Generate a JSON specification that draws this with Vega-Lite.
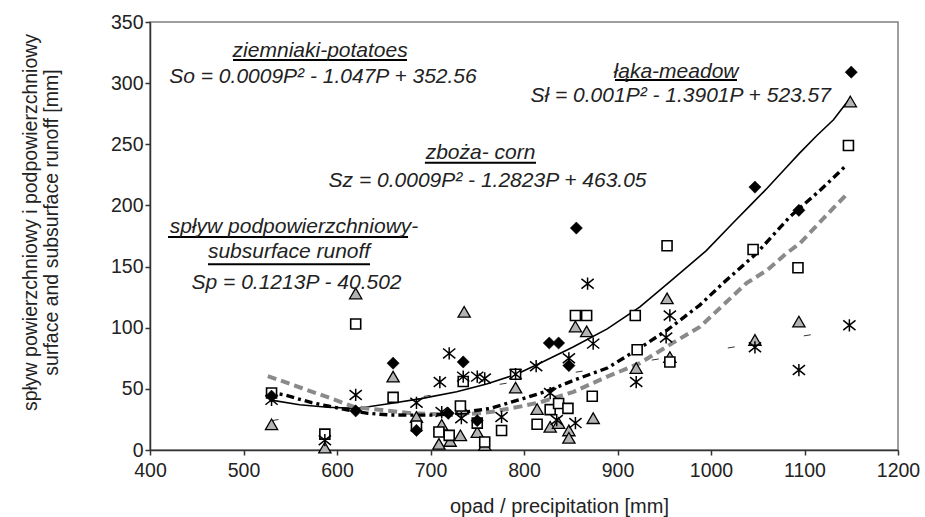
{
  "$schema": "https://vega.github.io/schema/vega-lite/v6.json",
  "width": 748,
  "height": 428,
  "autosize": "none",
  "padding": {"left": 150, "top": 22, "right": 27, "bottom": 67},
  "background": "white",
  "config": {
    "font": "Liberation Sans",
    "view": {"stroke": "#808080", "strokeWidth": 1.5}
  },
  "datasets": {
    "pts": [
      {"P": 530, "S": 44, "s": "D"}, {"P": 620, "S": 32, "s": "D"}, {"P": 660, "S": 71, "s": "D"}, {"P": 685, "S": 16, "s": "D"},
      {"P": 719, "S": 30, "s": "D"}, {"P": 735, "S": 72, "s": "D"}, {"P": 750, "S": 24, "s": "D"}, {"P": 827, "S": 87.5, "s": "D"},
      {"P": 837, "S": 87.5, "s": "D"}, {"P": 848, "S": 69, "s": "D"}, {"P": 856, "S": 181.5, "s": "D"}, {"P": 1047, "S": 215, "s": "D"},
      {"P": 1094, "S": 196, "s": "D"}, {"P": 1150, "S": 309, "s": "D"},
      {"P": 530, "S": 46.6, "s": "Q"}, {"P": 587, "S": 13, "s": "Q"}, {"P": 620, "S": 103, "s": "Q"}, {"P": 660, "S": 43, "s": "Q"},
      {"P": 685, "S": 19.6, "s": "Q"}, {"P": 709, "S": 14.7, "s": "Q"}, {"P": 720, "S": 12, "s": "Q"}, {"P": 732, "S": 36, "s": "Q"},
      {"P": 735, "S": 56, "s": "Q"}, {"P": 750, "S": 22, "s": "Q"}, {"P": 758, "S": 6.5, "s": "Q"}, {"P": 776, "S": 16, "s": "Q"},
      {"P": 791, "S": 62, "s": "Q"}, {"P": 814, "S": 21, "s": "Q"}, {"P": 828, "S": 33, "s": "Q"}, {"P": 837, "S": 38, "s": "Q"},
      {"P": 847, "S": 34, "s": "Q"}, {"P": 855, "S": 110, "s": "Q"}, {"P": 867, "S": 110, "s": "Q"}, {"P": 873, "S": 44, "s": "Q"},
      {"P": 919, "S": 110, "s": "Q"}, {"P": 921, "S": 82, "s": "Q"}, {"P": 953, "S": 167, "s": "Q"}, {"P": 956, "S": 72, "s": "Q"},
      {"P": 1045, "S": 164, "s": "Q"}, {"P": 1093, "S": 149, "s": "Q"}, {"P": 1147, "S": 249, "s": "Q"},
      {"P": 530, "S": 21, "s": "T"}, {"P": 587, "S": 2, "s": "T"}, {"P": 620, "S": 128, "s": "T"}, {"P": 660, "S": 60, "s": "T"},
      {"P": 685, "S": 27, "s": "T"}, {"P": 712, "S": 20.6, "s": "T"}, {"P": 709, "S": 5, "s": "T"}, {"P": 721, "S": 7.4, "s": "T"},
      {"P": 732, "S": 12, "s": "T"}, {"P": 734, "S": 34, "s": "T"}, {"P": 736, "S": 113, "s": "T"}, {"P": 750, "S": 14.7, "s": "T"},
      {"P": 758, "S": 4, "s": "T"}, {"P": 791, "S": 51, "s": "T"}, {"P": 814, "S": 33.5, "s": "T"}, {"P": 828, "S": 19, "s": "T"},
      {"P": 837, "S": 22, "s": "T"}, {"P": 848, "S": 16, "s": "T"}, {"P": 848, "S": 10, "s": "T"}, {"P": 855, "S": 101, "s": "T"},
      {"P": 867, "S": 97, "s": "T"}, {"P": 874, "S": 26, "s": "T"}, {"P": 920, "S": 67, "s": "T"}, {"P": 953, "S": 124, "s": "T"},
      {"P": 956, "S": 76, "s": "T"}, {"P": 1047, "S": 90, "s": "T"}, {"P": 1094, "S": 105, "s": "T"}, {"P": 1149, "S": 285, "s": "T"},
      {"P": 530, "S": 41, "s": "A"}, {"P": 587, "S": 8, "s": "A"}, {"P": 620, "S": 45, "s": "A"}, {"P": 685, "S": 38.6, "s": "A"},
      {"P": 710, "S": 55.6, "s": "A"}, {"P": 712, "S": 31, "s": "A"}, {"P": 720, "S": 79, "s": "A"}, {"P": 733, "S": 26, "s": "A"},
      {"P": 735, "S": 60, "s": "A"}, {"P": 750, "S": 60, "s": "A"}, {"P": 758, "S": 58.5, "s": "A"}, {"P": 776, "S": 27, "s": "A"},
      {"P": 791, "S": 62, "s": "A"}, {"P": 813, "S": 68.5, "s": "A"}, {"P": 828, "S": 46.6, "s": "A"}, {"P": 835, "S": 24.5, "s": "A"},
      {"P": 848, "S": 75, "s": "A"}, {"P": 855, "S": 22, "s": "A"}, {"P": 868, "S": 136, "s": "A"}, {"P": 874, "S": 87, "s": "A"},
      {"P": 920, "S": 55.6, "s": "A"}, {"P": 952, "S": 92, "s": "A"}, {"P": 956, "S": 110, "s": "A"}, {"P": 1047, "S": 84, "s": "A"},
      {"P": 1094, "S": 65.4, "s": "A"}, {"P": 1148, "S": 102, "s": "A"}
    ],
    "lines": [
      {"P": 528, "S": 41, "l": "meadow"}, {"P": 560, "S": 37, "l": "meadow"}, {"P": 590, "S": 35, "l": "meadow"}, {"P": 621, "S": 34, "l": "meadow"},
      {"P": 657, "S": 38, "l": "meadow"}, {"P": 690, "S": 42, "l": "meadow"}, {"P": 728, "S": 47.6, "l": "meadow"}, {"P": 760, "S": 54, "l": "meadow"},
      {"P": 792, "S": 62, "l": "meadow"}, {"P": 817, "S": 71, "l": "meadow"}, {"P": 852, "S": 84, "l": "meadow"}, {"P": 889, "S": 99, "l": "meadow"},
      {"P": 924, "S": 117, "l": "meadow"}, {"P": 958, "S": 139, "l": "meadow"}, {"P": 995, "S": 163, "l": "meadow"}, {"P": 1024, "S": 186, "l": "meadow"},
      {"P": 1042, "S": 200, "l": "meadow"}, {"P": 1060, "S": 214, "l": "meadow"}, {"P": 1078, "S": 229, "l": "meadow"}, {"P": 1095, "S": 243, "l": "meadow"},
      {"P": 1113, "S": 257, "l": "meadow"}, {"P": 1131, "S": 270, "l": "meadow"}, {"P": 1147, "S": 286, "l": "meadow"},
      {"P": 526, "S": 47.6, "l": "potatoes"}, {"P": 544, "S": 45, "l": "potatoes"}, {"P": 573, "S": 38.7, "l": "potatoes"}, {"P": 590, "S": 36, "l": "potatoes"},
      {"P": 612, "S": 32.7, "l": "potatoes"}, {"P": 633, "S": 30, "l": "potatoes"}, {"P": 657, "S": 28.6, "l": "potatoes"}, {"P": 700, "S": 28.5, "l": "potatoes"},
      {"P": 728, "S": 30, "l": "potatoes"}, {"P": 764, "S": 34, "l": "potatoes"}, {"P": 799, "S": 42, "l": "potatoes"}, {"P": 828, "S": 49, "l": "potatoes"},
      {"P": 853, "S": 57, "l": "potatoes"}, {"P": 889, "S": 67, "l": "potatoes"}, {"P": 921, "S": 82, "l": "potatoes"}, {"P": 953, "S": 98, "l": "potatoes"},
      {"P": 988, "S": 118.5, "l": "potatoes"}, {"P": 1013, "S": 136.5, "l": "potatoes"}, {"P": 1049, "S": 161, "l": "potatoes"}, {"P": 1084, "S": 190.5, "l": "potatoes"},
      {"P": 1117, "S": 212.6, "l": "potatoes"}, {"P": 1145, "S": 233, "l": "potatoes"},
      {"P": 526, "S": 60.5, "l": "corn"}, {"P": 562, "S": 50.7, "l": "corn"}, {"P": 598, "S": 41, "l": "corn"}, {"P": 619, "S": 35, "l": "corn"},
      {"P": 648, "S": 32.7, "l": "corn"}, {"P": 680, "S": 30, "l": "corn"}, {"P": 728, "S": 28.6, "l": "corn"}, {"P": 764, "S": 31, "l": "corn"},
      {"P": 799, "S": 36, "l": "corn"}, {"P": 817, "S": 39, "l": "corn"}, {"P": 853, "S": 47.6, "l": "corn"}, {"P": 889, "S": 60, "l": "corn"},
      {"P": 924, "S": 71, "l": "corn"}, {"P": 960, "S": 88, "l": "corn"}, {"P": 988, "S": 100.6, "l": "corn"}, {"P": 1038, "S": 136.5, "l": "corn"},
      {"P": 1060, "S": 147, "l": "corn"}, {"P": 1081, "S": 161, "l": "corn"}, {"P": 1095, "S": 169, "l": "corn"}, {"P": 1131, "S": 198, "l": "corn"},
      {"P": 1145, "S": 209, "l": "corn"},
      {"P": 530, "S": 24, "l": "subsurface"}, {"P": 1150, "S": 99.5, "l": "subsurface"}
    ],
    "labels": [
      {"t": "ziemniaki-potatoes", "P": 582, "S": 321.3},
      {"t": "So = 0.0009P² - 1.047P + 352.56", "P": 585, "S": 299.8},
      {"t": "zboża- corn", "P": 753.5, "S": 238},
      {"t": "Sz = 0.0009P² - 1.2823P + 463.05", "P": 761, "S": 215.3},
      {"t": "łąka-meadow", "P": 962.6, "S": 304},
      {"t": "Sł = 0.001P² - 1.3901P + 523.57", "P": 967.6, "S": 284.8},
      {"t": "spływ podpowierzchniowy-", "P": 554, "S": 177.4},
      {"t": "subsurface runoff", "P": 548.7, "S": 157},
      {"t": "Sp = 0.1213P - 40.502", "P": 556.7, "S": 131.6}
    ],
    "underlines": [
      {"P1": 488.8, "P2": 674.9, "S": 318.9},
      {"P1": 694, "P2": 812.8, "S": 235},
      {"P1": 897.3, "P2": 1027.8, "S": 302.5},
      {"P1": 419.3, "P2": 676, "S": 174.2},
      {"P1": 462, "P2": 635.3, "S": 152}
    ]
  },
  "layer": [
    {
      "data": {"name": "lines"},
      "transform": [{"filter": "datum.l === 'subsurface'"}],
      "mark": {"type": "line", "color": "#000", "strokeWidth": 0.8, "strokeDash": [7, 70]},
      "encoding": {
        "x": {"field": "P", "type": "quantitative", "scale": {"domain": [400, 1200], "nice": false},
          "axis": {"values": [400, 500, 600, 700, 800, 900, 1000, 1100, 1200], "format": "d", "grid": false,
            "domainColor": "#333", "domainWidth": 1.5, "tickColor": "#333", "tickWidth": 1.5, "tickSize": 5,
            "labelFontSize": 19.5, "labelColor": "#222", "labelPadding": 6, "labelFlush": false,
            "title": "opad / precipitation [mm]", "titleFontSize": 20, "titleFontWeight": "normal", "titleColor": "#222",
            "titleX": 409, "titleY": 62, "titleBaseline": "alphabetic", "titleAlign": "center"}},
        "y": {"field": "S", "type": "quantitative", "scale": {"domain": [0, 350], "nice": false},
          "axis": {"values": [0, 50, 100, 150, 200, 250, 300, 350], "format": "d", "grid": false,
            "domainColor": "#333", "domainWidth": 1.5, "tickColor": "#333", "tickWidth": 1.5, "tickSize": 5,
            "labelFontSize": 19.5, "labelColor": "#222", "labelPadding": 2,
            "title": ["spływ powierzchniowy i podpowierzchniowy", "surface and subsurface runoff [mm]"],
            "titleFontSize": 19.5, "titleFontWeight": "normal", "titleColor": "#222", "titleLineHeight": 21,
            "titleX": -114, "titleY": 200, "titleBaseline": "alphabetic", "titleAlign": "center", "titleAngle": -90}}
      }
    },
    {
      "data": {"name": "lines"},
      "transform": [{"filter": "datum.l === 'meadow'"}],
      "mark": {"type": "line", "color": "#000", "strokeWidth": 1.6},
      "encoding": {"x": {"field": "P", "type": "quantitative"}, "y": {"field": "S", "type": "quantitative"}}
    },
    {
      "data": {"name": "lines"},
      "transform": [{"filter": "datum.l === 'corn'"}],
      "mark": {"type": "line", "color": "#8a8a8a", "strokeWidth": 4, "strokeDash": [9, 5]},
      "encoding": {"x": {"field": "P", "type": "quantitative"}, "y": {"field": "S", "type": "quantitative"}}
    },
    {
      "data": {"name": "lines"},
      "transform": [{"filter": "datum.l === 'potatoes'"}],
      "mark": {"type": "line", "color": "#000", "strokeWidth": 3.4, "strokeDash": [8, 4, 3, 4]},
      "encoding": {"x": {"field": "P", "type": "quantitative"}, "y": {"field": "S", "type": "quantitative"}}
    },
    {
      "data": {"name": "pts"},
      "transform": [{"filter": "datum.s === 'T'"}],
      "mark": {"type": "point", "shape": "triangle-up", "filled": true, "fill": "#b3b3b3", "stroke": "#000", "strokeWidth": 1.3, "size": 150, "opacity": 1},
      "encoding": {"x": {"field": "P", "type": "quantitative"}, "y": {"field": "S", "type": "quantitative"}}
    },
    {
      "data": {"name": "pts"},
      "transform": [{"filter": "datum.s === 'Q'"}],
      "mark": {"type": "point", "shape": "square", "filled": true, "fill": "#fff", "stroke": "#000", "strokeWidth": 1.6, "size": 100, "opacity": 1},
      "encoding": {"x": {"field": "P", "type": "quantitative"}, "y": {"field": "S", "type": "quantitative"}}
    },
    {
      "data": {"name": "pts"},
      "transform": [{"filter": "datum.s === 'D'"}],
      "mark": {"type": "point", "shape": "diamond", "filled": true, "fill": "#000", "stroke": "#000", "strokeWidth": 0.5, "size": 150, "opacity": 1},
      "encoding": {"x": {"field": "P", "type": "quantitative"}, "y": {"field": "S", "type": "quantitative"}}
    },
    {
      "data": {"name": "pts"},
      "transform": [{"filter": "datum.s === 'A'"}],
      "mark": {"type": "point", "shape": "M0,-1L0,1M-1,-0.8L1,0.8M-1,0.8L1,-0.8", "filled": false, "stroke": "#000", "strokeWidth": 1.5, "size": 150, "opacity": 1},
      "encoding": {"x": {"field": "P", "type": "quantitative"}, "y": {"field": "S", "type": "quantitative"}}
    },
    {
      "data": {"name": "underlines"},
      "mark": {"type": "rule", "color": "#000", "strokeWidth": 2},
      "encoding": {"x": {"field": "P1", "type": "quantitative"}, "x2": {"field": "P2"}, "y": {"field": "S", "type": "quantitative"}}
    },
    {
      "data": {"name": "labels"},
      "mark": {"type": "text", "font": "Liberation Sans", "fontSize": 21, "fontStyle": "italic", "color": "#222", "align": "center", "baseline": "alphabetic"},
      "encoding": {"x": {"field": "P", "type": "quantitative"}, "y": {"field": "S", "type": "quantitative"}, "text": {"field": "t"}}
    }
  ]
}
